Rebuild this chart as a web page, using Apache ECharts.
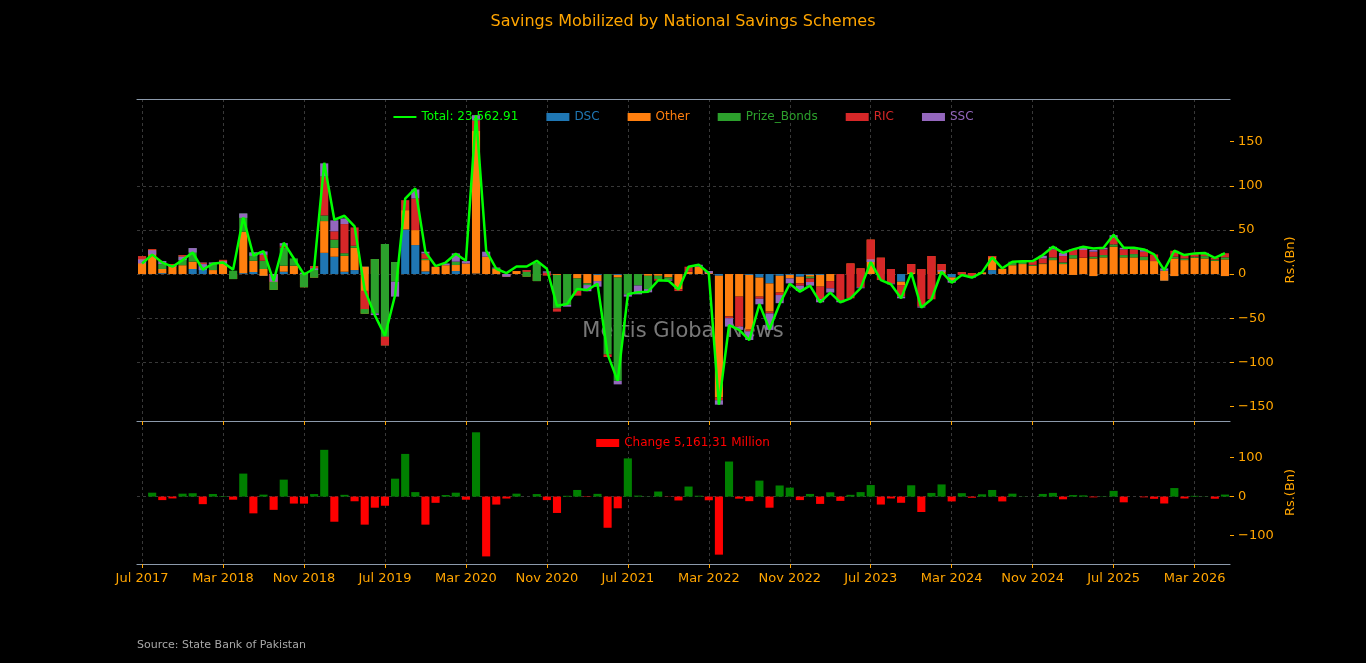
<!DOCTYPE html>
<html>
<head>
<meta charset="utf-8">
<title>Savings Mobilized by National Savings Schemes</title>
<script src="https://cdn.jsdelivr.net/npm/echarts@6.0.0/dist/echarts.min.js"></script>
<style>
  html, body { margin: 0; padding: 0; background: #000; }
  #main { width: 1366px; height: 663px; }
</style>
</head>
<body>
<div id="main"></div>
<script>
// monthly flows, Rs. Bn, Jul 2017 .. Jun 2026
var dsc = [0, 0, 1, 0, 0, 5.7, 13, 0, 0, 0,
  1, 2.3, -2, 0, 2.6, 0, 0, 0, 24, 19.6,
  2.6, 4.5, 8.3, 0, 0, 0, 50.5, 32.8, 3, 0,
  0, 3.4, 0, 0.5, 0, 0, 0, 0, 0, 0,
  0, 0, 0, 0, 0, -1, 0, -1, 0, 0,
  0, 0, 0, 0, 0, 0, 0, -2, 0, 0,
  -1, -4, -10.6, -2, -1, -3, -1, -1, 0, 0,
  0, 0, 0, 0, 0, -8.7, 0, 0, 0, 0,
  -3.8, 0, 0, 0, 4.5, 0, 0, 0, 0, 0,
  0, 0, -1, 0, -2.3, 0, 0, 0, 0, 0,
  0, -7.5, -2.3, 0, 0, 0, 0, -2.3]

var other = [20, 28, 4.7, 11.3, 10, 8.3, 0, 4.5, 16, -5.7,
  47, 12.7, 7.7, -18, 6.8, 9.4, -15, -4.1, 36, 10,
  18, 25.3, -53.3, 17, 34, 13.6, 21.9, 17, 12.8, 8.3,
  10, 6.8, 12, 161.5, 19.6, 5.7, -3, 3.4, -3, -8,
  -1.5, -1, 0, -5, -10.5, -7, 0, -3, 0, 0,
  -2, -2, -3.8, -17.3, 2.6, 8.3, 3.4, -138, -48, -25.6,
  -62, -21.6, -32, -19, -4, -7.6, -2, -13.3, -8, 0,
  12, 6.4, 39, 18.5, 5.7, -3.8, 11.3, 5.7, 20.4, 11.3,
  -3, 2, 1, 1.9, 15.9, 6, 10, 11.3, 9.4, 11.3,
  15.8, 11.3, 18.7, 18.5, 20, 18.9, 31, 18.9, 18.9, 15.8,
  14.7, 11.3, 20, 15.8, 18.5, 17.7, 15, 18.9]

var prizeBonds = [0, 0, 5.6, 0, 11.5, 15.4, 0, 8.5, 0, 9.5,
  20.6, 9.5, 9.3, 9.3, 20.6, 8.3, 15, 13.1, 6.4, 9.4,
  3, 2.2, 5.4, -61.5, -115, -22.3, 0, 0, 1.5, 0,
  0, 3.8, 0, 0, 0, 1.5, 0, 0, 7.5, 20.8,
  0, -38, -35, -14, -2, 0, -91, -117, -23, -13,
  -15, -3.7, -2.3, 0, 0, 0, 0, 0, 0, 0,
  0, 0, 0, 0, 0, 0, -2, 0, 0, 0,
  0, 0, 0, 0, 0, 0, 0, 0, 0, 0,
  0, 0, 0, 0, 0, 0, 4, 2.7, 1, 0.7,
  3, 1.9, 3.8, 0, 1.9, 2.6, 2.6, 2.6, 3.7, 3.8,
  0, 0, 1.9, 1.9, 1.1, 2.6, 1.4, 2.3]

var ric = [-3.5, -1, 0, -2, -2, 0, -2, 0, -1.7, 0,
  0, 0, 6.7, 8.7, 2, 0, 1.5, -2.6, 44, 9.4,
  33, 20.8, 20.7, 0, 10, 0, 11.3, 35.8, 6, 0,
  0, 0, 0, 12, 0, 0, 0, 0, -2, 0,
  3, -3.6, 0, -5.5, 0, 0, -3, 0, 0, 0,
  0, -1.8, 0, -2, 5.7, 0, 0, -3, -2, -34,
  -2, -2.4, -2, -2.8, 0, -2.6, -4, -14, -8.2, -30,
  -39.5, -21.5, -22.4, -25.3, -16.3, -13.1, -9.8, -42.7, -49, -6.8,
  0, -3, -4, 0, -1.5, 0, 0, 0, 4.6, 5.7,
  9, 7.2, 5.7, 8.7, 5.7, 6.4, 7.4, 6.4, 5.3, 5.7,
  7.5, 0, 6.8, 3.8, 3, 2.3, 2, 4.7]

var ssc = [-4.5, -5, 3.4, -1, -3.7, -5, -6.5, -1.3, -2.6, 0,
  -4.9, -3.8, 3.9, -8.7, 3, 0, -1.5, -1.9, 15, 12.4,
  6.4, 0, 0, -2, 0, -16.9, 0, 10.2, 2, 0,
  2, 9.4, 2.7, 6, 5.7, -0.7, 3, 0, 0, 0,
  1.5, 0, -2, 0, -7, -6.3, 0, -4, -2.6, -10,
  -3.7, 0, -1.5, 0, 0, 2.2, -2.6, -5, -9.6, -3.7,
  -9.7, -6.3, -18.7, -9.2, -5.6, -6, -4.2, -3.7, -4.8, -2,
  0, -1, -3, 0, -1, -1.9, 0, -1, 0, -1.9,
  -3, 0, -1, 0, 0, 0, 0, 0, 0, 3,
  3, 3.6, 0.7, 3.8, 1.9, 1.9, 3, 1.9, 1.9, 2.6,
  0, 2.6, 0, 0, 0.8, 1.4, 0, 0]

var total = [12, 22, 13, 8.3, 15.8, 24.4, 5, 11.7, 13, 5,
  64, 21, 26, -8, 35.5, 17.6, -0.5, 6, 126, 61.5,
  66, 54, -18, -46.5, -70, -24, 85.5, 97, 25, 9,
  13, 23, 15, 180, 26.5, 6, 1, 8.5, 8.5, 15,
  6, -36, -34, -17, -18, -11, -91, -121, -23, -20.5,
  -20, -7, -7.5, -17.5, 8.3, 10.5, 1, -148, -58, -63.3,
  -75, -34, -62.5, -34, -11, -20, -13.2, -32, -21, -32,
  -27.5, -16, 13.6, -6.8, -11.6, -27.5, 1.5, -38, -28.6, 2.6,
  -9.8, -1, -4, 1.9, 18.9, 6.5, 14, 14.5, 14.7, 21.5,
  31, 24, 27.9, 31, 29, 29.8, 44.5, 29.8, 29.8, 27.9,
  22.2, 4.5, 26.4, 21.5, 23.4, 23.9, 18.4, 23.56]

// month on month change of the total
var change = [null, 10, -9, -4.7, 7.5, 8.6, -19.4, 6.7, 1.3, -8,
  59, -43, 5, -34, 43.5, -17.9, -18.1, 6.5, 120, -64.5,
  4.5, -12, -72, -28.5, -23.5, 46, 109.5, 11.5, -72, -16,
  4, 10, -8, 165, -153.5, -20.5, -5, 7.5, 0, 6.5,
  -9, -42, 2, 17, -1, 7, -80, -30, 98, 2.5,
  0.5, 13, -0.5, -10, 25.8, 2.2, -9.5, -149, 90, -5.3,
  -11.7, 41, -28.5, 28.5, 23, -9, 6.8, -18.8, 11, -11,
  4.5, 11.5, 29.6, -20.4, -4.8, -15.9, 29, -39.5, 9.4, 31.2,
  -12.4, 8.8, -3, 5.9, 17, -12.4, 7.5, 0.5, 0.2, 6.8,
  9.5, -7, 3.9, 3.1, -2, 0.8, 14.7, -14.7, 0, -1.9,
  -5.7, -17.7, 21.9, -4.9, 1.9, 0.5, -5.5, 5.16]

var yTicksTop = [-150, -100, -50, 0, 50, 100, 150]
var yTicksBottom = [-100, 0, 100]

var monthNames = ['Jan', 'Feb', 'Mar', 'Apr', 'May', 'Jun', 'Jul', 'Aug', 'Sep', 'Oct', 'Nov', 'Dec']
var months = []
for (var k = 0; k < total.length; k++) {
  months.push(monthNames[(6 + k) % 12] + ' ' + (2017 + Math.floor((6 + k) / 12)))
}

var ORANGE = '#FFA500'
var FONT = 'DejaVu Sans'
var SPINE = '#8c9aab'
var GRIDLINE = { color: '#474747', width: 0.8, type: [3, 3] }

function minus(v) {
  return v < 0 ? '\u2212' + Math.abs(v) : String(v)
}

function xAxisFor(gridIndex, withLabels) {
  return {
    type: 'category',
    gridIndex: gridIndex,
    data: months,
    boundaryGap: true,
    axisLine: { show: true, onZero: false, lineStyle: { color: SPINE, width: 1.2 } },
    axisTick: { show: true, interval: 7, alignWithLabel: true, length: 4, lineStyle: { color: ORANGE } },
    axisLabel: { show: withLabels, interval: 7, color: ORANGE, fontSize: 13, fontFamily: FONT, margin: 8 },
    splitLine: { show: true, interval: 7, alignWithLabel: true, lineStyle: GRIDLINE }
  }
}

function yAxisFor(gridIndex, min, max, step, ticks) {
  return {
    type: 'value',
    gridIndex: gridIndex,
    position: 'right',
    min: min,
    max: max,
    minInterval: step,
    maxInterval: step,
    name: 'Rs.(Bn)',
    nameLocation: 'middle',
    nameRotate: 90,
    nameGap: 33,
    nameTextStyle: { color: ORANGE, fontSize: 13, fontFamily: FONT },
    axisLine: { show: false },
    axisTick: { show: true, length: 4, lineStyle: { color: ORANGE }, customValues: ticks },
    axisLabel: {
      color: ORANGE, fontSize: 13, fontFamily: FONT, margin: 8, customValues: ticks,
      formatter: function (v) { return v % step === 0 ? minus(v) : '' }
    },
    splitLine: { show: true, showMinLine: false, showMaxLine: false, lineStyle: GRIDLINE }
  }
}

function stackBar(name, data, color) {
  return {
    name: name,
    type: 'bar',
    xAxisIndex: 0,
    yAxisIndex: 0,
    stack: 'nss',
    stackStrategy: 'all',
    barWidth: '80%',
    itemStyle: { color: color },
    data: data
  }
}

function legendItem(name, color) {
  return { name: name, icon: 'rect', textStyle: { color: color } }
}

var chart = echarts.init(document.getElementById('main'))

var topAxisTop = xAxisFor(0, false)
topAxisTop.position = 'top'
topAxisTop.axisTick = { show: false }
topAxisTop.splitLine = { show: false }

var option = {
  backgroundColor: '#000',
  animation: false,
  textStyle: { fontFamily: FONT },
  title: {
    text: 'Savings Mobilized by National Savings Schemes',
    left: 'center',
    top: 14,
    padding: 0,
    textStyle: { color: ORANGE, fontSize: 16, fontWeight: 'normal', fontFamily: FONT }
  },
  legend: [{
    top: 106,
    left: 'center',
    itemWidth: 23,
    itemHeight: 8,
    itemGap: 28,
    textStyle: { fontSize: 12, fontFamily: FONT },
    data: [
      {
        name: 'Total: 23,562.91',
        itemStyle: { color: 'rgba(0,0,0,0)', borderColor: 'rgba(0,0,0,0)', opacity: 0 },
        textStyle: { color: '#00ff00' }
      },
      legendItem('DSC', '#1f77b4'),
      legendItem('Other', '#ff7f0e'),
      legendItem('Prize_Bonds', '#2ca02c'),
      legendItem('RIC', '#d62728'),
      legendItem('SSC', '#9467bd')
    ]
  }, {
    top: 432,
    left: 'center',
    itemWidth: 23,
    itemHeight: 8,
    textStyle: { fontSize: 12, fontFamily: FONT },
    data: [
      { name: 'Change 5,161.31 Million', icon: 'rect', itemStyle: { color: '#ff0000' }, textStyle: { color: '#ff0000' } }
    ]
  }],
  grid: [
    { left: 137, right: 136, top: 99, height: 322 },
    { left: 137, right: 136, top: 421, height: 143 }
  ],
  xAxis: [xAxisFor(0, false), xAxisFor(1, true), topAxisTop],
  yAxis: [
    yAxisFor(0, -166.5, 198.3, 50, yTicksTop),
    yAxisFor(1, -173, 194, 100, yTicksBottom)
  ],
  graphic: [{
    type: 'text',
    left: 'center',
    top: 321,
    silent: true,
    style: { text: 'Mettis Global News', fill: 'rgba(160,160,160,0.75)', font: '21px "DejaVu Sans"' }
  }, {
    type: 'text',
    left: 137,
    top: 640,
    silent: true,
    style: { text: 'Source: State Bank of Pakistan', fill: '#a8a8a8', font: '11px "DejaVu Sans"' }
  }],
  series: [
    stackBar('DSC', dsc, '#1f77b4'),
    stackBar('Other', other, '#ff7f0e'),
    stackBar('Prize_Bonds', prizeBonds, '#2ca02c'),
    stackBar('RIC', ric, '#d62728'),
    stackBar('SSC', ssc, '#9467bd'),
    {
      name: 'Total: 23,562.91',
      type: 'line',
      xAxisIndex: 0,
      yAxisIndex: 0,
      z: 5,
      symbol: 'none',
      color: '#00ff00',
      lineStyle: { color: '#00ff00', width: 2.5 },
      data: total
    },
    {
      name: 'Change 5,161.31 Million',
      type: 'bar',
      xAxisIndex: 1,
      yAxisIndex: 1,
      barWidth: '80%',
      color: '#ff0000',
      itemStyle: {
        color: function (p) { return p.value >= 0 ? '#008000' : '#ff0000' }
      },
      data: change
    }
  ]
}

chart.setOption(option)
</script>
</body>
</html>
